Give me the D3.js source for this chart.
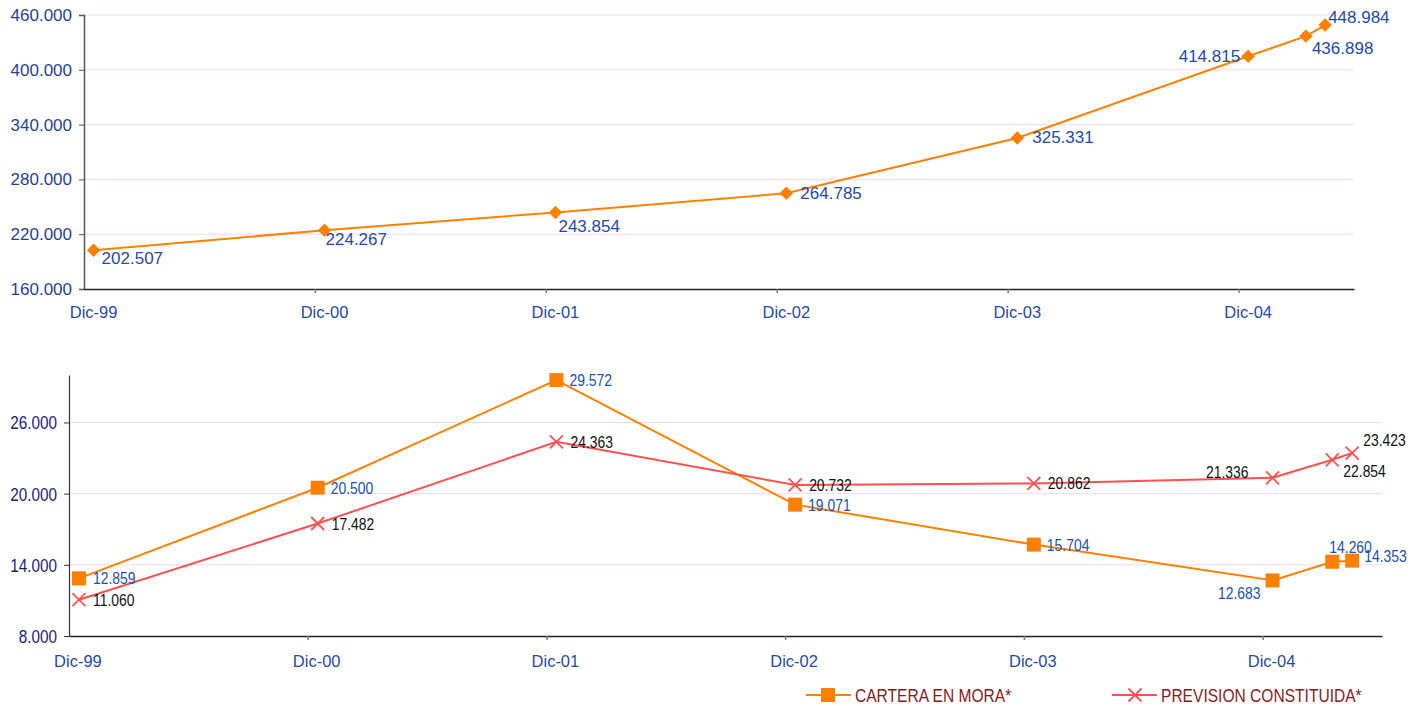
<!DOCTYPE html>
<meta charset="utf-8">
<script src="https://d3js.org/d3.v7.min.js"></script>
<style>
    body { margin: 0; background: #fff; }
    svg { display: block; font-family: "Liberation Sans", Arial, sans-serif; }
</style>
<div id="chart"></div>
<script>
    // months counted from Dic-99
    const yearLabels = ["Dic-99", "Dic-00", "Dic-01", "Dic-02", "Dic-03", "Dic-04"];
    const yearMonths = [0, 12, 24, 36, 48, 60];
    const pointMonths = [0, 12, 24, 36, 48, 60, 63, 64];

    // top chart
    const topValues = [202507, 224267, 243854, 264785, 325331, 414815, 436898, 448984];
    const topTicks = [160000, 220000, 280000, 340000, 400000, 460000];

    // bottom chart
    const carteraMora = [12859, 20500, 29572, 19071, 15704, 12683, 14260, 14353];
    const prevision = [11060, 17482, 24363, 20732, 20862, 21336, 22854, 23423];
    const bottomTicks = [8000, 14000, 20000, 26000];
    const seriesNames = ["CARTERA EN MORA*", "PREVISION CONSTITUIDA*"];

    // label placement per point: [dx, dy, anchor]
    const topLabelPos = [[8, 14, "start"], [1, 15, "start"], [3, 20, "start"], [14, 6, "start"],
        [15, 5, "start"], [-8, 6, "end"], [6, 18, "start"], [3, -2, "start"]];
    const moraLabelPos = [[14, 6, "start"], [13, 6, "start"], [13, 6, "start"], [13, 6, "start"],
        [13, 6, "start"], [-12, 19, "end"], [-3, -9, "start"], [12, 1, "start"]];
    const prevLabelPos = [[14, 6, "start"], [14, 6, "start"], [14, 6, "start"], [14, 6, "start"],
        [14, 6, "start"], [-24, 0, "end"], [11, 17, "start"], [11, -7, "start"]];

    const fmt = v => d3.format(",.0f")(v).replace(/,/g, ".");
    const orange = "#ff8000", red = "#ff5050";

    // no narrow font installed: squeeze text horizontally around its anchor
    function narrow(sel, sx) {
        sel.each(function () {
            const t = d3.select(this);
            const x = +t.attr("x") || 0, y = +t.attr("y") || 0;
            t.attr("x", 0).attr("y", 0)
                .attr("transform", `translate(${x},${y}) scale(${sx},1)`);
        });
    }

    const svg = d3.select("#chart").append("svg")
        .attr("width", 1413).attr("height", 706);

    // ---------- TOP CHART ----------
    const tx = d3.scaleLinear().domain([-0.5, 65.5]).range([84, 1354]);
    const ty = d3.scaleLinear().domain([160000, 460000]).range([289, 15]);
    const gTop = svg.append("g");

    gTop.selectAll(".grid").data(topTicks.slice(1)).join("line")
        .attr("x1", tx(-0.5)).attr("x2", tx(65.5))
        .attr("y1", d => ty(d)).attr("y2", d => ty(d))
        .attr("stroke", "#f6d6ea").attr("stroke-width", 1);

    const topYAxis = gTop.append("g").attr("transform", `translate(${tx(-0.5)},0)`)
        .call(d3.axisLeft(ty).tickValues(topTicks).tickFormat(fmt).tickSize(5).tickPadding(7));
    topYAxis.select(".domain").attr("stroke", "#555").attr("stroke-width", 1.5);
    topYAxis.selectAll(".tick line").attr("stroke", "#555");
    topYAxis.selectAll("text").attr("fill", "#1f3f9c")
        .style("font-family", "'Liberation Sans', Arial, sans-serif").style("font-size", "17px");

    const topXAxis = gTop.append("g").attr("transform", `translate(0,${ty(160000)})`)
        .call(d3.axisBottom(tx).tickValues(yearMonths.slice(1).map(m => m - 0.5)).tickFormat("").tickSize(4).tickSizeOuter(0));
    topXAxis.select(".domain").attr("stroke", "#222").attr("stroke-width", 1.5);
    topXAxis.selectAll(".tick line").attr("stroke", "#777").attr("stroke-width", 1.5);

    gTop.selectAll(".xlab").data(yearLabels).join("text")
        .attr("x", (d, i) => tx(yearMonths[i])).attr("y", 318)
        .attr("text-anchor", "middle").attr("fill", "#1f4aa8").style("font-size", "16.5px")
        .text(d => d);

    gTop.append("path").datum(topValues)
        .attr("fill", "none").attr("stroke", orange).attr("stroke-width", 2)
        .attr("d", d3.line().x((d, i) => tx(pointMonths[i])).y(d => ty(d)));

    gTop.selectAll(".dia").data(topValues).join("path")
        .attr("transform", (d, i) => `translate(${tx(pointMonths[i])},${ty(d)})`)
        .attr("d", d3.symbol(d3.symbolDiamond2, 115)())
        .attr("fill", orange);

    gTop.selectAll(".lab").data(topValues).join("text")
        .attr("x", (d, i) => tx(pointMonths[i]) + topLabelPos[i][0])
        .attr("y", (d, i) => ty(d) + topLabelPos[i][1])
        .attr("text-anchor", (d, i) => topLabelPos[i][2])
        .attr("fill", "#1f4aa8").style("font-size", "17px")
        .text(fmt);

    // ---------- BOTTOM CHART ----------
    const bx = d3.scaleLinear().domain([-0.5, 65.5]).range([69, 1382]);
    const by = d3.scaleLinear().domain([8000, 30000]).range([636, 375]);
    const gBot = svg.append("g");

    gBot.selectAll(".grid").data(bottomTicks.slice(1)).join("line")
        .attr("x1", bx(-0.5)).attr("x2", bx(65.5))
        .attr("y1", d => by(d)).attr("y2", d => by(d))
        .attr("stroke", "#f6d6ea").attr("stroke-width", 1);

    const botYAxis = gBot.append("g").attr("transform", `translate(${bx(-0.5)},0)`)
        .call(d3.axisLeft(by).tickValues(bottomTicks).tickFormat(fmt).tickSize(5).tickPadding(7).tickSizeOuter(0));
    botYAxis.select(".domain").attr("stroke", "#333").attr("stroke-width", 1.2);
    botYAxis.selectAll(".tick line").attr("stroke", "#333");
    botYAxis.selectAll("text").attr("fill", "#1a1a80")
        .style("font-family", "'Liberation Sans', Arial, sans-serif").style("font-size", "18px")
        .attr("dy", "0.36em")
        .call(narrow, 0.85);

    const botXAxis = gBot.append("g").attr("transform", `translate(0,${by(8000)})`)
        .call(d3.axisBottom(bx).tickValues(yearMonths.slice(1).map(m => m - 0.5)).tickFormat("").tickSize(4).tickSizeOuter(0));
    botXAxis.select(".domain").attr("stroke", "#222").attr("stroke-width", 1.5);
    botXAxis.selectAll(".tick line").attr("stroke", "#777").attr("stroke-width", 1.5);

    gBot.selectAll(".xlab").data(yearLabels).join("text")
        .attr("x", (d, i) => bx(yearMonths[i]) - 1).attr("y", 667)
        .attr("text-anchor", "middle").attr("fill", "#1f4aa8").style("font-size", "16.5px")
        .text(d => d);

    const line = d3.line().x((d, i) => bx(pointMonths[i])).y(d => by(d));

    gBot.append("path").datum(carteraMora)
        .attr("fill", "none").attr("stroke", orange).attr("stroke-width", 2).attr("d", line);
    gBot.append("path").datum(prevision)
        .attr("fill", "none").attr("stroke", red).attr("stroke-width", 2).attr("d", line);

    const sq = 14;
    gBot.selectAll(".sq").data(carteraMora).join("rect")
        .attr("x", (d, i) => bx(pointMonths[i]) - sq / 2)
        .attr("y", d => by(d) - sq / 2)
        .attr("width", sq).attr("height", sq).attr("fill", orange);

    const xr = 6.5;
    const crossPath = `M${-xr},${-xr}L${xr},${xr}M${-xr},${xr}L${xr},${-xr}`;
    gBot.selectAll(".x").data(prevision).join("path")
        .attr("transform", (d, i) => `translate(${bx(pointMonths[i])},${by(d)})`)
        .attr("d", crossPath)
        .attr("stroke", red).attr("stroke-width", 1.8).attr("fill", "none");

    gBot.selectAll(".labm").data(carteraMora).join("text")
        .attr("x", (d, i) => bx(pointMonths[i]) + moraLabelPos[i][0])
        .attr("y", (d, i) => by(d) + moraLabelPos[i][1])
        .attr("text-anchor", (d, i) => moraLabelPos[i][2])
        .attr("fill", "#2050b0").style("font-size", "17px")
        .text(fmt)
        .call(narrow, 0.82);

    gBot.selectAll(".labp").data(prevision).join("text")
        .attr("x", (d, i) => bx(pointMonths[i]) + prevLabelPos[i][0])
        .attr("y", (d, i) => by(d) + prevLabelPos[i][1])
        .attr("text-anchor", (d, i) => prevLabelPos[i][2])
        .attr("fill", "#111").style("font-size", "17px")
        .text(fmt)
        .call(narrow, 0.82);

    // ---------- LEGEND ----------
    const legend = svg.append("g").attr("transform", "translate(0,695)");
    const legX = [806, 1112];
    const legColors = [orange, red];
    seriesNames.forEach((name, i) => {
        const g = legend.append("g").attr("transform", `translate(${legX[i]},0)`);
        g.append("line").attr("x1", 0).attr("x2", 45).attr("y1", 0).attr("y2", 0)
            .attr("stroke", legColors[i]).attr("stroke-width", 2);
        if (i === 0) {
            g.append("rect").attr("x", 22 - 7).attr("y", -7).attr("width", 14).attr("height", 14).attr("fill", orange);
        } else {
            g.append("path").attr("transform", "translate(23,0)")
                .attr("d", crossPath)
                .attr("stroke", red).attr("stroke-width", 1.8);
        }
        g.append("text").attr("x", 49).attr("y", 7)
            .attr("fill", "#8b1a1a").style("font-size", "19px").text(name)
            .call(narrow, 0.82);
    });
</script>
